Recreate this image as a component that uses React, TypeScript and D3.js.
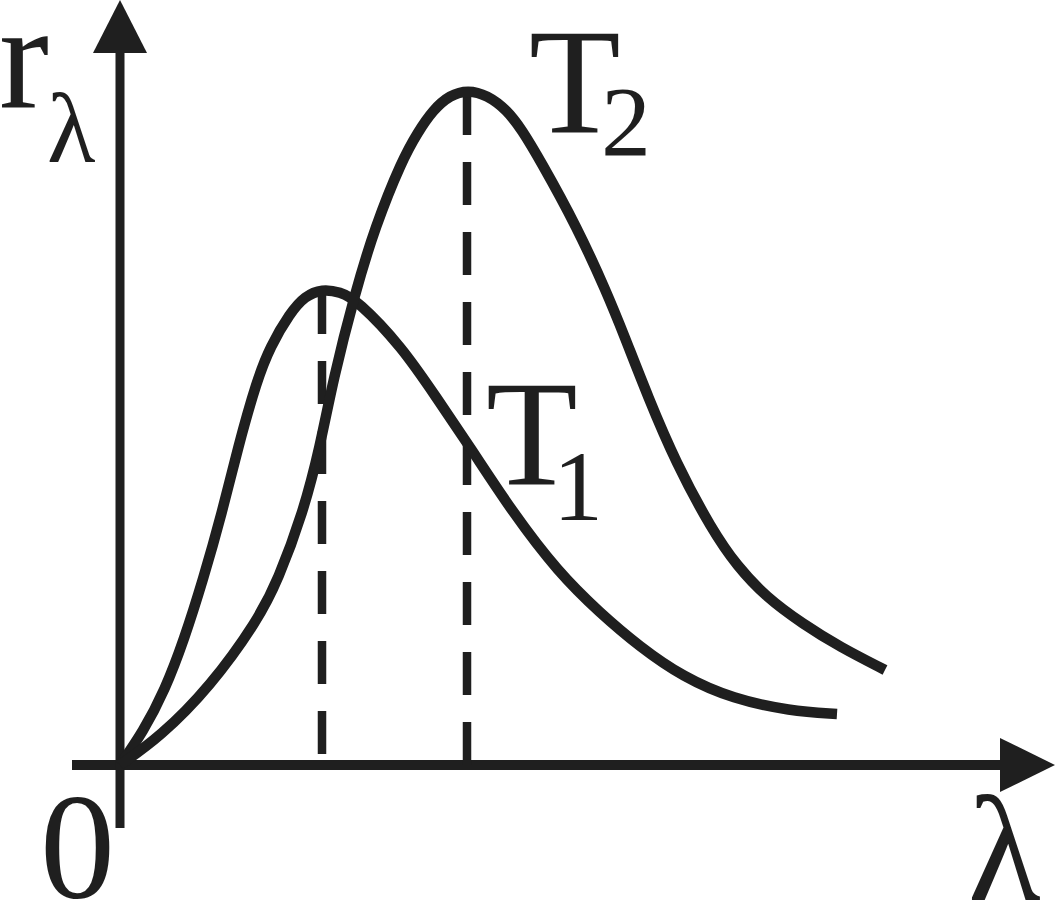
import React from "react";
import * as d3 from "d3";

// λ (arbitrary units) and r_λ (arbitrary units)
const t1Lambda = [0, 2.3, 4.5, 6.4, 8.3, 10.2, 11.8, 13.7, 15.0, 17.0, 18.5, 20.2, 22.0, 23.7, 28.2, 31.6, 35.0, 39.3, 43.8, 48.0, 52.0, 56.3, 61.3, 67.0, 71.7];
const t1R = [0, 3.3, 7.5, 12.5, 18.5, 25.2, 31.8, 38.5, 41.8, 45.2, 46.9, 47.6, 47.3, 46.5, 41.8, 36.8, 31.8, 25.2, 19.3, 15.2, 11.8, 8.8, 6.6, 5.4, 5.1];

const t2Lambda = [0, 4.0, 9.0, 13.8, 15.8, 18.3, 20.0, 21.3, 23.5, 25.5, 28.2, 29.8, 31.3, 33.0, 34.8, 36.7, 38.7, 40.2, 42.0, 45.7, 48.7, 50.4, 52.8, 55.6, 59.2, 61.7, 64.6, 68.3, 72.0, 76.5];
const t2R = [0, 2.8, 7.8, 14.5, 18.5, 25.2, 31.8, 38.5, 47.2, 53.8, 60.5, 63.3, 65.5, 67.0, 67.5, 67.0, 65.5, 63.5, 60.5, 53.8, 47.2, 43.0, 36.8, 30.2, 23.5, 19.9, 16.8, 14.1, 11.8, 9.5];

// peak markers (dashed verticals)
const peakLambda = [20.2, 34.7];
const peakR = [47.4, 67.3];

// axis extents
const xAxisExtent = [-4.8, 88.0];
const yAxisExtent = [-6.3, 71.2];

const W = 1055;
const H = 903;
const INK = "#1f1f1f";
const FONT = "'Liberation Serif', 'Times New Roman', serif";

export default function App() {
  React.useEffect(() => {
    document.body.style.margin = "0";
  }, []);

  const x = d3.scaleLinear().domain([0, 93.5]).range([120, 1055]);
  const y = d3.scaleLinear().domain([0, 76.5]).range([765, 0]);

  const line = d3
    .line<[number, number]>()
    .x((d) => x(d[0]))
    .y((d) => y(d[1]))
    .curve(d3.curveBasis);

  const t1: [number, number][] = t1Lambda.map((v, i) => [v, t1R[i]]);
  const t2: [number, number][] = t2Lambda.map((v, i) => [v, t2R[i]]);

  const x0 = x(0);
  const y0 = y(0);
  const xEnd = x(xAxisExtent[1]);
  const yEnd = y(yAxisExtent[1]);
  const xTip = x(93.5);
  const yTip = y(76.5);

  return (
    <svg width={W} height={H} style={{ position: "absolute", left: 0, top: 0, background: "#fff" }}>
      <rect x={0} y={0} width={W} height={H} fill="#fff" />
      {/* axes */}
      <line x1={x(xAxisExtent[0])} y1={y0} x2={xEnd} y2={y0} stroke={INK} strokeWidth={10} />
      <line x1={x0} y1={y(yAxisExtent[0])} x2={x0} y2={yEnd} stroke={INK} strokeWidth={9} />
      <polygon points={`${xEnd},${y0 - 27} ${xTip},${y0} ${xEnd},${y0 + 27}`} fill={INK} />
      <polygon points={`${x0 - 27},${yEnd} ${x0},${yTip} ${x0 + 27},${yEnd}`} fill={INK} />

      {/* dashed peak lines */}
      {peakLambda.map((p, i) => (
        <line
          key={i}
          x1={x(p)}
          y1={y(peakR[i])}
          x2={x(p)}
          y2={y0}
          stroke={INK}
          strokeWidth={8.5}
          strokeDasharray="43 27"
        />
      ))}

      {/* curves */}
      <path d={line(t1) || ""} fill="none" stroke={INK} strokeWidth={10.5} strokeLinecap="butt" />
      <path d={line(t2) || ""} fill="none" stroke={INK} strokeWidth={10.5} strokeLinecap="butt" />

      {/* labels */}
      <g fill={INK} fontFamily={FONT}>
        <text x={-1} y={107} fontSize={150}>
          r<tspan x={47} y={162} fontSize={100}>λ</tspan>
        </text>
        <text x={40} y={898} fontSize={150}>0</text>
        <text x={968} y={900} fontSize={150}>λ</text>
        <text x={529} y={132} fontSize={150}>
          T<tspan x={601} y={155} fontSize={100}>2</tspan>
        </text>
        <text x={486} y={484} fontSize={150}>
          T<tspan x={553} y={520} fontSize={100}>1</tspan>
        </text>
      </g>
    </svg>
  );
}
